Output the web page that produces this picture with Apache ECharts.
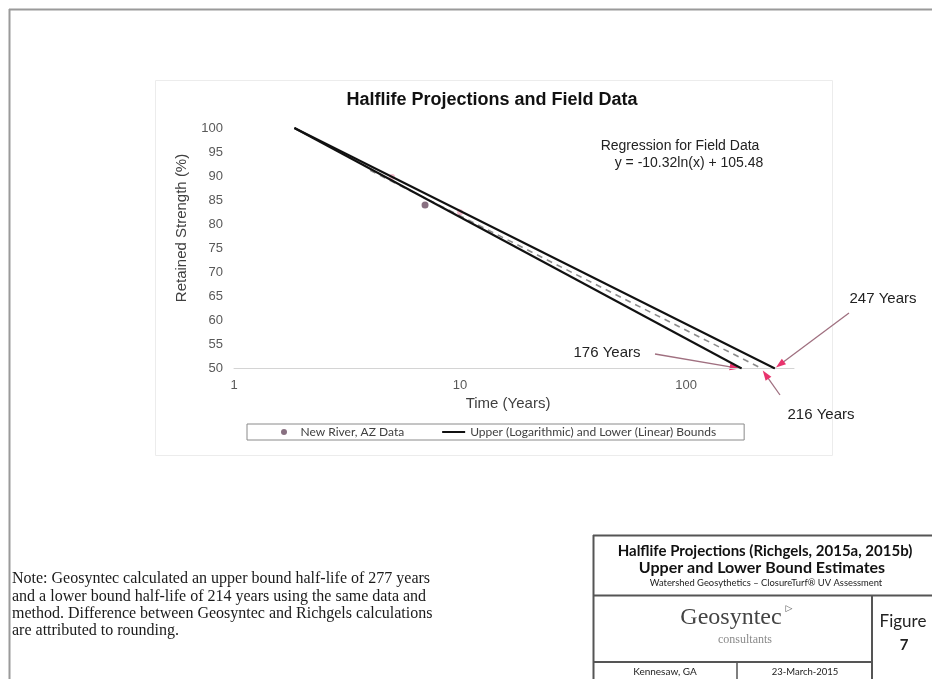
<!DOCTYPE html>
<html><head><meta charset="utf-8">
<script src="https://cdn.jsdelivr.net/npm/echarts@6/dist/echarts.min.js"></script>
<style>html,body{margin:0;padding:0;background:#fff}#c{width:932px;height:679px}</style>
</head><body><div id="c"></div>
<script>
// ---- data ----
const xRange = [1, 300];            // log time axis (years)
const yRange = [50, 100];           // retained strength (%)
const yStep = 5;
const fieldData = [[7, 84]];                 // New River, AZ data
const fieldMarks = [[5, 89.8], [10, 82.5]];  // faint red markers under the lines
const upperBound = [[1.85, 100], [247, 50]];
const lowerBound = [[1.85, 100], [176, 50]];
const regression = [[4, 91.2], [216, 50]];
const halfLifeLabels = ['176 Years', '216 Years', '247 Years'];
const halfLifeYears = [176, 216, 247];

const BOUNDS = 'Upper (Logarithmic) and Lower (Linear) Bounds';
const FIELD = 'New River, AZ Data';

const chart = echarts.init(document.getElementById('c'), null, {renderer: 'canvas'});
const axisLabelStyle = {color: '#595959', fontSize: 13, fontFamily: 'Liberation Sans, Arial, sans-serif'};

chart.setOption({
  backgroundColor: '#fff',
  animation: false,
  grid: {left: 234, top: 128, width: 560, height: 240.5, containLabel: false},
  xAxis: {
    type: 'log', logBase: 10, min: xRange[0], max: xRange[1],
    axisLine: {show: true, lineStyle: {color: '#d4d4d4', width: 1}},
    axisTick: {show: false}, splitLine: {show: false}, minorSplitLine: {show: false},
    axisLabel: Object.assign({margin: 10, showMaxLabel: false}, axisLabelStyle)
  },
  yAxis: {
    type: 'value', min: yRange[0], max: yRange[1], interval: yStep,
    axisLine: {show: false}, axisTick: {show: false}, splitLine: {show: false},
    axisLabel: Object.assign({margin: 11}, axisLabelStyle)
  },
  legend: {
    left: 247, top: 424,
    data: [{name: FIELD, icon: 'circle'}, {name: BOUNDS, icon: 'path://M0,0h23v2h-23z'}],
    itemWidth: 23, itemHeight: 6, itemGap: 38, symbolKeepAspect: true,
    padding: [2, 28, 2, 34],
    borderColor: '#8a8a8a', borderWidth: 1,
    textStyle: {color: '#404040', fontSize: 12, fontFamily: 'Lato, sans-serif'}
  },
  series: [
    {name: 'Field markers', type: 'scatter', data: fieldMarks, symbolSize: 6,
     itemStyle: {color: 'rgba(225,90,130,0.5)'}, z: 1},
    {name: 'Regression for Field Data', type: 'line', data: regression, symbol: 'none',
     lineStyle: {color: '#8c8c8c', width: 1.6, type: [6, 5]}, z: 2},
    {name: BOUNDS, type: 'line', data: upperBound, symbol: 'none',
     lineStyle: {color: '#111', width: 2}, itemStyle: {color: '#111'}, z: 3},
    {name: BOUNDS, type: 'line', data: lowerBound, symbol: 'none',
     lineStyle: {color: '#111', width: 2}, itemStyle: {color: '#111'}, z: 3},
    {name: FIELD, type: 'scatter', data: fieldData, symbolSize: 7,
     itemStyle: {color: '#6a4c62'}, z: 4}
  ]
});

function txt(text, x, y, font, fill, align, extra) {
  return Object.assign({
    type: 'text', x: x, y: y, silent: true,
    style: {text: text, x: 0, y: 0, font: font, fill: fill || '#000',
            align: align || 'center', textAlign: align || 'center',
            verticalAlign: 'middle', textVerticalAlign: 'middle'}
  }, extra || {});
}
function ln(x1, y1, x2, y2, color, w) {
  return {type: 'line', silent: true, shape: {x1: x1, y1: y1, x2: x2, y2: y2},
          style: {stroke: color, lineWidth: w || 1}};
}
function arrow(tail, tip, lineColor, headColor) {
  const dx = tip[0] - tail[0], dy = tip[1] - tail[1];
  const L = Math.sqrt(dx * dx + dy * dy), ux = dx / L, uy = dy / L;
  const hl = 10, hw = 3.5;
  const bx = tip[0] - ux * hl, by = tip[1] - uy * hl;
  return [
    ln(tail[0], tail[1], bx + ux * 2, by + uy * 2, lineColor, 1.3),
    {type: 'polygon', silent: true,
     shape: {points: [[tip[0], tip[1]], [bx - uy * hw, by + ux * hw], [bx + uy * hw, by - ux * hw]]},
     style: {fill: headColor}}
  ];
}

const ends = halfLifeYears.map(v => chart.convertToPixel({gridIndex: 0}, [v, yRange[0]]));
const labelPos = [[607, 353], [821, 415], [883, 299]];
const tails = [[655, 354], [780, 395], [849, 313]];
const tipOffset = [[-2, 0], [1, 2], [1, -1]];

const g = [];
// page border
g.push(ln(9, 9.5, 932, 9.5, '#9a9a9a', 2));
g.push(ln(9.5, 9, 9.5, 679, '#9a9a9a', 2));
// faint chart frame
g.push({type: 'rect', silent: true, shape: {x: 155.5, y: 80.5, width: 677, height: 375},
        style: {fill: 'none', stroke: '#ececec', lineWidth: 1}});
// chart title and texts
const SANS = '"Liberation Sans", Arial, sans-serif';
g.push(txt('Halflife Projections and Field Data', 492, 100, 'bold 18px ' + SANS, '#111'));
g.push(txt('Regression for Field Data', 680, 146, '14px ' + SANS, '#222'));
g.push(txt('y = -10.32ln(x) + 105.48', 689, 163, '14px ' + SANS, '#222'));
g.push(txt('Retained Strength (%)', 182, 228, '15px ' + SANS, '#404040', 'center', {rotation: Math.PI / 2}));
g.push(txt('Time (Years)', 508, 404, '15px ' + SANS, '#404040'));
// half-life annotations
for (let i = 0; i < halfLifeYears.length; i++) {
  g.push(txt(halfLifeLabels[i], labelPos[i][0], labelPos[i][1], '15px ' + SANS, '#222'));
  const tip = [ends[i][0] + tipOffset[i][0], ends[i][1] + tipOffset[i][1]];
  arrow(tails[i], tip, '#a07080', '#e8336d').forEach(e => g.push(e));
}
// title block
const tb = '#555';
g.push(ln(593, 535.5, 932, 535.5, tb, 2));
g.push(ln(593.5, 535, 593.5, 679, tb, 2));
g.push(ln(593, 595.5, 932, 595.5, tb, 2));
g.push(ln(872, 595, 872, 679, tb, 2));
g.push(ln(593, 662, 872, 662, tb, 2));
g.push(ln(737, 662, 737, 679, tb, 1.5));
g.push(txt('Halflife Projections (Richgels, 2015a, 2015b)', 765, 551, 'bold 15px Lato, sans-serif', '#111'));
g.push(txt('Upper and Lower Bound Estimates', 762, 568, 'bold 16px Lato, sans-serif', '#111'));
g.push(txt('Watershed Geosythetics \u2013 ClosureTurf\u00ae UV Assessment', 766, 583, '9.4px Lato, sans-serif', '#222'));
g.push(txt('Geosyntec', 731, 618, '24px "Liberation Serif", serif', '#444'));
g.push(txt('\u25B7', 789, 609, '9px "DejaVu Sans", sans-serif', '#555'));
g.push(txt('consultants', 745, 640, '12px "Liberation Serif", serif', '#8a8a8a'));
g.push(txt('Figure', 903, 622, '17px Lato, sans-serif', '#222'));
g.push(txt('7', 904, 645, 'bold 15px Lato, sans-serif', '#222'));
g.push(txt('Kennesaw, GA', 665, 672, '10px Lato, sans-serif', '#222'));
g.push(txt('23-March-2015', 805, 672, '9.5px Lato, sans-serif', '#222'));
// note
const noteLines = [
  'Note: Geosyntec calculated an upper bound half-life of 277 years',
  'and a lower bound half-life of 214 years using the same data and',
  'method. Difference between Geosyntec and Richgels calculations',
  'are attributed to rounding.'
];
noteLines.forEach((t, i) => g.push(txt(t, 12, 579 + i * 17.3, '16px "Liberation Serif", serif', '#1a1a1a', 'left')));

chart.setOption({graphic: {elements: g}});
</script></body></html>
